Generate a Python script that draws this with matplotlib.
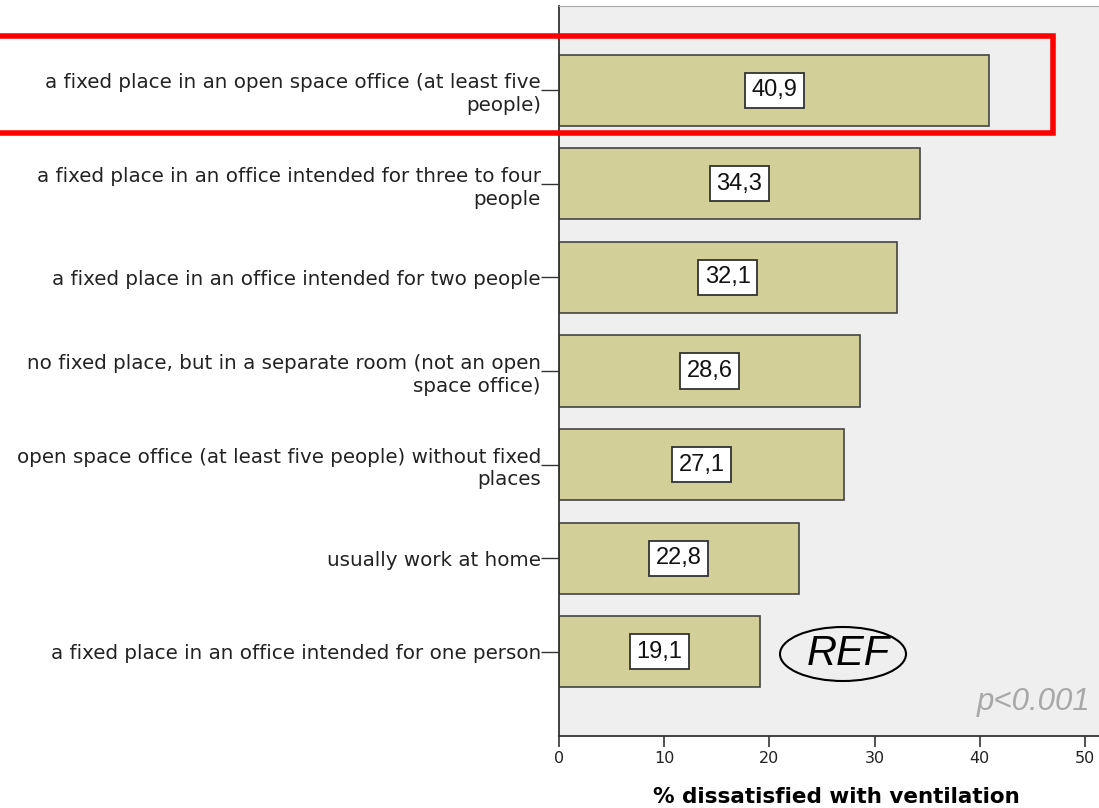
import matplotlib
matplotlib.use("Agg")
import matplotlib.pyplot as plt
from matplotlib.patches import Rectangle, Ellipse

categories = [
    "a fixed place in an open space office (at least five\npeople)",
    "a fixed place in an office intended for three to four\npeople",
    "a fixed place in an office intended for two people",
    "no fixed place, but in a separate room (not an open\nspace office)",
    "open space office (at least five people) without fixed\nplaces",
    "usually work at home",
    "a fixed place in an office intended for one person",
]
values = [40.9, 34.3, 32.1, 28.6, 27.1, 22.8, 19.1]
value_labels = ["40,9", "34,3", "32,1", "28,6", "27,1", "22,8", "19,1"]
xticks = [0, 10, 20, 30, 40, 50]
xlabel = "% dissatisfied with ventilation"

W, H = 1099, 808
fig = plt.figure(figsize=(W / 100, H / 100), dpi=100)
fig.patch.set_facecolor("white")
ax = fig.add_axes([559 / W, 1 - 736 / H, (W - 559) / W, (736 - 6) / H])
ax.set_facecolor("#efefef")

ypos = list(range(len(categories)))
ax.barh(ypos, values, height=0.76, color="#d3cf98", edgecolor="#444444", linewidth=1.2, zorder=2)
for y, v, lab in zip(ypos, values, value_labels):
    ax.text(v / 2, y, lab, ha="center", va="center", fontsize=17,
            family="Liberation Sans", color="#111111", zorder=3,
            bbox=dict(boxstyle="square,pad=0.28", fc="white", ec="#333333", lw=1.3))

ax.set_xlim(0, (W - 559) / 10.52)
ax.set_ylim(6.9, -0.9)
ax.set_yticks(ypos)
ax.set_yticklabels(categories, family="DejaVu Sans", fontsize=14.3, color="#222222",
                   linespacing=1.25)
ax.set_xticks(xticks)
ax.set_xticklabels([str(t) for t in xticks], family="DejaVu Sans", fontsize=11.5, color="#222222")
ax.tick_params(axis="y", length=13, width=1, color="#333333", pad=0)
ax.tick_params(axis="x", length=8, width=1.2, color="#333333", pad=3)

for s in ["left", "bottom"]:
    ax.spines[s].set_color("#333333")
    ax.spines[s].set_linewidth(1.3)
ax.spines["top"].set_color("#aaaaaa")
ax.spines["right"].set_visible(False)

ax.set_xlabel(xlabel, family="DejaVu Sans", fontweight="bold", fontsize=15.5, va="center")
ax.xaxis.set_label_coords((836 - 559) / (W - 559), -(797 - 736) / (736 - 6))

# REF annotation and p-value
ax.add_patch(Ellipse((843, H - 654), 126, 54, transform=None, fill=False, ec="black", lw=1.5, zorder=4))
fig.text(848 / W, 1 - 654 / H, "REF", ha="center", va="center", fontsize=30,
         style="italic", family="Liberation Sans", color="black")
fig.text(1091 / W, 1 - 702 / H, "p<0.001", ha="right", va="center", fontsize=22.5,
         style="italic", family="Liberation Sans", color="#a8a8a8")

# red highlight rectangle
fig.patches.append(Rectangle((-10, H - 133), 1063, 97, transform=None, fill=False,
                             ec="#ff0000", lw=4, zorder=10))

fig.savefig("out.png", dpi=100)
